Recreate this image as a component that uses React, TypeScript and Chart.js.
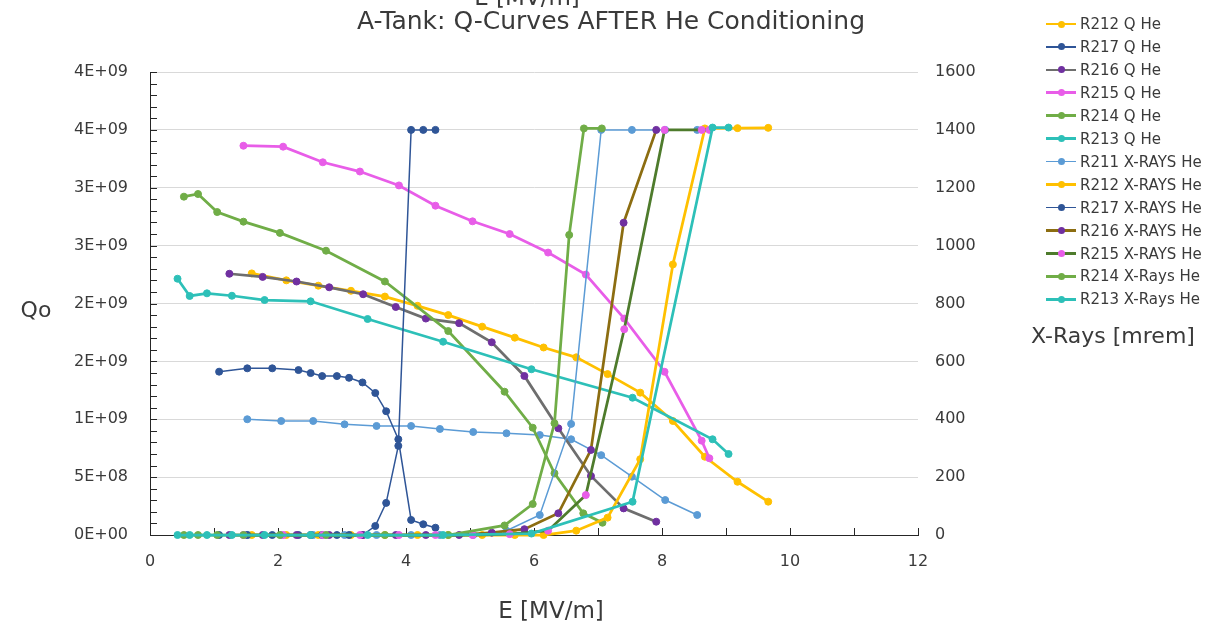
import React, { useEffect, useRef } from 'react';
import { Chart, registerables } from 'chart.js';

Chart.register(...registerables);

// ---------- texts ----------
const TITLE = 'A-Tank: Q-Curves AFTER He Conditioning';
const X_TITLE = 'E [MV/m]';
const Q_TITLE = 'Qo';
const XRAY_TITLE = 'X-Rays [mrem]';

// ---------- tick values / labels ----------
const X_TICKS = [0, 2, 4, 6, 8, 10, 12];
const Q_TICKS = [0, 5e8, 1e9, 1.5e9, 2e9, 2.5e9, 3e9, 3.5e9, 4e9];
const Q_TICK_LABELS = ['0E+00', '5E+08', '1E+09', '2E+09', '2E+09', '3E+09', '3E+09', '4E+09', '4E+09'];
const XRAY_TICKS = [0, 200, 400, 600, 800, 1000, 1200, 1400, 1600];
const XRAY_TICK_LABELS = ['0', '200', '400', '600', '800', '1000', '1200', '1400', '1600'];

// ---------- data (E in MV/m, Q0, X-rays in mrem) ----------
const E_R211 = [1.52, 2.05, 2.55, 3.04, 3.54, 4.08, 4.53, 5.05, 5.57, 6.09, 6.58, 7.05, 7.53, 8.05, 8.55];
const Q_R211 = [1.0e9, 0.985e9, 0.985e9, 0.956e9, 0.942e9, 0.942e9, 0.916e9, 0.89e9, 0.879e9, 0.864e9, 0.827e9, 0.69e9, 0.504e9, 0.302e9, 0.173e9];
const X_R211 = [0, 0, 0, 0, 0, 0, 0, 0, 15, 69, 384, 1400, 1400, 1400, 1400];

const E_R212 = [1.59, 2.13, 2.63, 3.14, 3.67, 4.18, 4.66, 5.19, 5.7, 6.15, 6.66, 7.15, 7.66, 8.17, 8.67, 9.18, 9.66];
const Q_R212 = [2.26e9, 2.2e9, 2.154e9, 2.11e9, 2.06e9, 1.98e9, 1.9e9, 1.8e9, 1.705e9, 1.62e9, 1.535e9, 1.39e9, 1.23e9, 0.985e9, 0.676e9, 0.46e9, 0.288e9];
const X_R212 = [0, 0, 0, 0, 0, 0, 0, 0, 0, 0, 15, 60, 262, 935, 1405, 1406, 1407];

const E_R213 = [0.43, 0.62, 0.89, 1.28, 1.79, 2.51, 3.4, 4.58, 5.96, 7.54, 8.79, 9.04];
const Q_R213 = [2.214e9, 2.065e9, 2.088e9, 2.067e9, 2.03e9, 2.019e9, 1.866e9, 1.67e9, 1.432e9, 1.186e9, 0.827e9, 0.7e9];
const X_R213 = [0, 0, 0, 0, 0, 0, 0, 0, 5, 115, 1408, 1408];

const E_R214 = [0.53, 0.75, 1.05, 1.46, 2.03, 2.75, 3.67, 4.66, 5.54, 5.98, 6.32, 6.77, 7.07];
const Q_R214 = [2.923e9, 2.946e9, 2.79e9, 2.707e9, 2.61e9, 2.456e9, 2.19e9, 1.762e9, 1.238e9, 0.927e9, 0.533e9, 0.187e9, 0.106e9];
const E_R214_X = [0.53, 0.75, 1.05, 1.46, 2.03, 2.75, 3.67, 4.66, 5.54, 5.98, 6.32, 6.55, 6.78, 7.06];
const X_R214 = [0, 0, 0, 0, 0, 0, 0, 0, 33, 107, 386, 1037, 1405, 1405];

const E_R215 = [1.46, 2.08, 2.7, 3.28, 3.89, 4.46, 5.04, 5.62, 6.22, 6.81, 7.41, 8.04, 8.62, 8.74];
const Q_R215 = [3.363e9, 3.355e9, 3.22e9, 3.14e9, 3.02e9, 2.845e9, 2.71e9, 2.6e9, 2.44e9, 2.25e9, 1.87e9, 1.41e9, 0.815e9, 0.663e9];
const X_R215 = [0, 0, 0, 0, 0, 0, 0, 3, 15, 138, 711, 1400, 1400, 1400];

const E_R216 = [1.24, 1.76, 2.29, 2.8, 3.33, 3.84, 4.31, 4.83, 5.34, 5.85, 6.38, 6.89, 7.4, 7.91];
const Q_R216 = [2.257e9, 2.23e9, 2.19e9, 2.14e9, 2.08e9, 1.97e9, 1.87e9, 1.83e9, 1.665e9, 1.374e9, 0.922e9, 0.51e9, 0.23e9, 0.115e9];
const X_R216 = [0, 0, 0, 0, 0, 0, 0, 0, 8, 20, 75, 294, 1079, 1400];

const E_R217 = [1.08, 1.52, 1.91, 2.32, 2.51, 2.69, 2.92, 3.11, 3.32, 3.52, 3.69, 3.88, 4.08, 4.27, 4.46];
const Q_R217 = [1.411e9, 1.44e9, 1.44e9, 1.425e9, 1.399e9, 1.373e9, 1.373e9, 1.358e9, 1.318e9, 1.227e9, 1.069e9, 0.827e9, 0.13e9, 0.093e9, 0.063e9];
const X_R217 = [0, 0, 0, 0, 0, 0, 0, 0, 0, 31, 111, 308, 1400, 1400, 1400];

// ---------- styles ----------
const FONT = '"DejaVu Sans", sans-serif';
const TEXT = '#3a3a3a';
const AXIS = '#262626';
const GRID = '#d9d9d9';

const YELLOW = '#FFC000';
const DBLUE = '#2F5597';
const GRAY = '#6E6E6E';
const PURPLE = '#7030A0';
const PINK = '#E85DE8';
const GREEN = '#70AD47';
const TEAL = '#2DC0B8';
const LBLUE = '#5B9BD5';
const GOLD = '#8C6D11';
const DGREEN = '#4E7B2C';

type S = { label: string; e: number[]; v: number[]; axis: 'y' | 'y1'; line: string; point: string; width: number; legend: boolean };

const SERIES: S[] = [
  { label: 'R211 Q He', e: E_R211, v: Q_R211, axis: 'y', line: LBLUE, point: LBLUE, width: 1.5, legend: false },
  { label: 'R212 Q He', e: E_R212, v: Q_R212, axis: 'y', line: YELLOW, point: YELLOW, width: 2.75, legend: true },
  { label: 'R217 Q He', e: E_R217, v: Q_R217, axis: 'y', line: DBLUE, point: DBLUE, width: 1.5, legend: true },
  { label: 'R216 Q He', e: E_R216, v: Q_R216, axis: 'y', line: GRAY, point: PURPLE, width: 2.75, legend: true },
  { label: 'R215 Q He', e: E_R215, v: Q_R215, axis: 'y', line: PINK, point: PINK, width: 2.75, legend: true },
  { label: 'R214 Q He', e: E_R214, v: Q_R214, axis: 'y', line: GREEN, point: GREEN, width: 2.75, legend: true },
  { label: 'R213 Q He', e: E_R213, v: Q_R213, axis: 'y', line: TEAL, point: TEAL, width: 2.75, legend: true },
  { label: 'R211 X-RAYS He', e: E_R211, v: X_R211, axis: 'y1', line: LBLUE, point: LBLUE, width: 1.5, legend: true },
  { label: 'R212 X-RAYS He', e: E_R212, v: X_R212, axis: 'y1', line: YELLOW, point: YELLOW, width: 2.75, legend: true },
  { label: 'R217 X-RAYS He', e: E_R217, v: X_R217, axis: 'y1', line: DBLUE, point: DBLUE, width: 1.5, legend: true },
  { label: 'R216 X-RAYS He', e: E_R216, v: X_R216, axis: 'y1', line: GOLD, point: PURPLE, width: 2.75, legend: true },
  { label: 'R215 X-RAYS He', e: E_R215, v: X_R215, axis: 'y1', line: DGREEN, point: PINK, width: 2.75, legend: true },
  { label: 'R214 X-Rays He', e: E_R214_X, v: X_R214, axis: 'y1', line: GREEN, point: GREEN, width: 2.75, legend: true },
  { label: 'R213 X-Rays He', e: E_R213, v: X_R213, axis: 'y1', line: TEAL, point: TEAL, width: 2.75, legend: true },
];

const decorPlugin = {
  id: 'decor',
  beforeDatasetsDraw(chart: any) {
    const { ctx, chartArea, scales } = chart;
    ctx.save();
    ctx.strokeStyle = AXIS;
    ctx.lineWidth = 1;
    const y = scales.y;
    for (let k = 0; k <= 40; k++) {
      const py = Math.round(y.getPixelForValue(k * 1e8)) + 0.5;
      ctx.beginPath();
      ctx.moveTo(chartArea.left, py);
      ctx.lineTo(chartArea.left + 7, py);
      ctx.stroke();
    }
    const x = scales.x;
    for (let k = 0; k <= 12; k++) {
      const px = Math.round(x.getPixelForValue(k)) + 0.5;
      ctx.beginPath();
      ctx.moveTo(px, chartArea.bottom);
      ctx.lineTo(px, chartArea.bottom - 7);
      ctx.stroke();
    }
    ctx.restore();
  },
  afterDraw(chart: any) {
    const { ctx } = chart;
    ctx.save();
    ctx.fillStyle = TEXT;
    ctx.textAlign = 'center';
    ctx.textBaseline = 'alphabetic';
    ctx.font = `25px ${FONT}`;
    ctx.fillText(TITLE, 611, 29);
    ctx.font = `23px ${FONT}`;
    ctx.fillText(X_TITLE, 551, 618);
    ctx.fillText(X_TITLE, 527, 5);
    ctx.font = `22px ${FONT}`;
    ctx.fillText(Q_TITLE, 36, 317);
    ctx.fillText(XRAY_TITLE, 1113, 343);
    ctx.restore();
  },
};

const LEGEND_TOP = 24;
const LEGEND_STEP = 22.95;

export default function App() {
  const ref = useRef<HTMLCanvasElement>(null);

  useEffect(() => {
    if (!ref.current) return;
    const N = SERIES.length;
    const chart = new Chart(ref.current, {
      type: 'line',
      data: {
        datasets: SERIES.map((s, i) => ({
          label: s.label,
          data: s.e.map((x, j) => ({ x, y: s.v[j] })),
          yAxisID: s.axis,
          borderColor: s.line,
          backgroundColor: s.point,
          pointBackgroundColor: s.point,
          pointBorderColor: s.point,
          borderWidth: s.width,
          pointRadius: 3.5,
          pointBorderWidth: 1,
          tension: 0,
          clip: false as any,
          order: N - i,
        })),
      },
      options: {
        responsive: false,
        animation: false,
        devicePixelRatio: 1,
        layout: { padding: { top: 72, left: 0, right: 233, bottom: 0 } },
        plugins: {
          legend: { display: false },
          tooltip: { enabled: false },
          title: { display: false },
        },
        scales: {
          x: {
            type: 'linear',
            position: 'bottom',
            min: 0,
            max: 12,
            afterBuildTicks: (axis: any) => {
              axis.ticks = X_TICKS.map((v) => ({ value: v }));
            },
            ticks: {
              callback: (v: any) => String(v),
              font: { family: FONT, size: 16 },
              color: TEXT,
              padding: 17,
              maxRotation: 0,
            },
            grid: { display: true, drawOnChartArea: false, drawTicks: false },
            border: { display: true, color: AXIS, width: 1 },
            afterFit: (s: any) => {
              s.height = 88;
            },
          },
          y: {
            type: 'linear',
            position: 'left',
            min: 0,
            max: 4e9,
            afterBuildTicks: (axis: any) => {
              axis.ticks = Q_TICKS.map((v) => ({ value: v }));
            },
            ticks: {
              callback: (_v: any, i: number) => Q_TICK_LABELS[i],
              font: { family: FONT, size: 16 },
              color: TEXT,
              padding: 22,
            },
            grid: { color: GRID, lineWidth: 1, drawTicks: false },
            border: { display: true, color: AXIS, width: 1 },
            afterFit: (s: any) => {
              s.width = 150;
            },
          },
          y1: {
            type: 'linear',
            position: 'right',
            min: 0,
            max: 1600,
            afterBuildTicks: (axis: any) => {
              axis.ticks = XRAY_TICKS.map((v) => ({ value: v }));
            },
            ticks: {
              callback: (_v: any, i: number) => XRAY_TICK_LABELS[i],
              font: { family: FONT, size: 16 },
              color: TEXT,
              padding: 17,
            },
            grid: { display: false, drawTicks: false },
            border: { display: false },
            afterFit: (s: any) => {
              s.width = 60;
            },
          },
        },
      } as any,
      plugins: [decorPlugin],
    });
    return () => chart.destroy();
  }, []);

  const legendItems = SERIES.filter((s) => s.legend);

  return (
    <div style={{ position: 'fixed', left: 0, top: 0, width: 1211, height: 623, background: '#fff', overflow: 'hidden' }}>
      <canvas ref={ref} width={1211} height={623} style={{ position: 'absolute', left: 0, top: 0 }} />
      {legendItems.map((s, i) => {
        const cy = LEGEND_TOP + i * LEGEND_STEP;
        return (
          <div key={s.label}>
            <div style={{ position: 'absolute', left: 1046, width: 30, top: cy - s.width / 2, height: s.width, background: s.line }} />
            <div style={{ position: 'absolute', left: 1061 - 3.5, top: cy - 3.5, width: 7, height: 7, borderRadius: '50%', background: s.point }} />
            <div
              style={{
                position: 'absolute',
                left: 1080,
                top: cy - 10,
                height: 20,
                lineHeight: '20px',
                fontFamily: FONT,
                fontSize: 15,
                color: TEXT,
                whiteSpace: 'nowrap',
              }}
            >
              {s.label}
            </div>
          </div>
        );
      })}
    </div>
  );
}
